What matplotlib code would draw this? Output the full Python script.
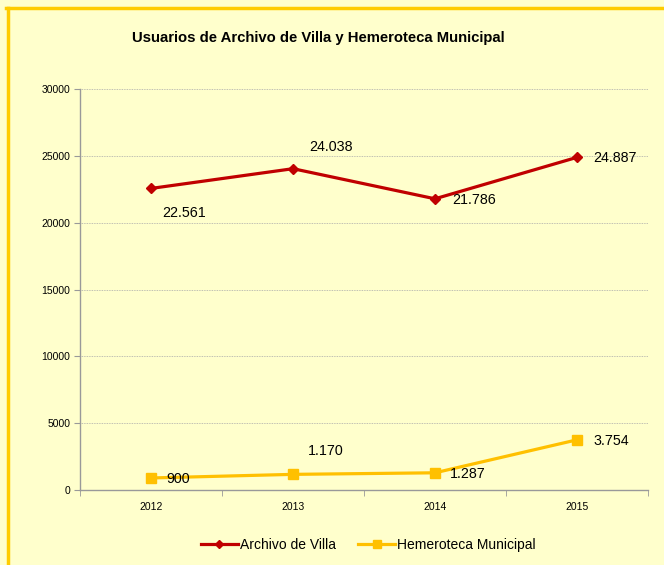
import matplotlib.pyplot as plt
from matplotlib.lines import Line2D
from matplotlib.ticker import FixedLocator

years = ['2012', '2013', '2014', '2015']
archivo = [22561, 24038, 21786, 24887]
hemeroteca = [900, 1170, 1287, 3754]
archivo_labels = ['22.561', '24.038', '21.786', '24.887']
hemeroteca_labels = ['900', '1.170', '1.287', '3.754']

# label offsets (pixels) relative to the point
archivo_off = [(11, -25), (16, 22), (17, -1), (16, -1)]
hemeroteca_off = [(15, -1), (15, 23), (15, -1), (16, -1)]

bg = '#FFFFCC'
red = '#C00000'
gold = '#FFC000'

plt.rcParams['font.family'] = ['Liberation Sans', 'DejaVu Sans']

fig = plt.figure(figsize=(6.64, 5.65), dpi=100, facecolor=bg)
ax = fig.add_axes([80 / 664, 75 / 565, 568 / 664, 401 / 565], facecolor=bg)

x = list(range(1, len(years) + 1))
ax.plot(x, archivo, color=red, lw=2.3, marker='D', ms=5.5, label='Archivo de Villa', zorder=3)
ax.plot(x, hemeroteca, color=gold, lw=2.3, marker='s', ms=7, label='Hemeroteca Municipal', zorder=3)

for xi, v, t, off in zip(x, archivo, archivo_labels, archivo_off):
    ax.annotate(t, (xi, v), xytext=off, textcoords='offset pixels',
                ha='left', va='center', fontsize=10.3, color='black')
for xi, v, t, off in zip(x, hemeroteca, hemeroteca_labels, hemeroteca_off):
    ax.annotate(t, (xi, v), xytext=off, textcoords='offset pixels',
                ha='left', va='center', fontsize=10.3, color='black')

ax.set_xlim(0.5, 4.5)
ax.set_ylim(0, 30000)
ax.set_xticks(x)
ax.set_xticklabels(years, fontsize=7.5)
ax.xaxis.set_minor_locator(FixedLocator([0.5, 1.5, 2.5, 3.5, 4.5]))
ax.tick_params(axis='x', which='major', length=0, pad=9)
ax.tick_params(axis='x', which='minor', length=4, color='#999999', direction='out')
ax.set_yticks(range(0, 30001, 5000))
ax.tick_params(axis='y', labelsize=7.5, length=4, color='#999999', pad=3)

ax.grid(axis='y', color='#aaaaaa', ls=(0, (1, 1)), lw=0.6)
ax.set_axisbelow(True)
for s in ['top', 'right']:
    ax.spines[s].set_visible(False)
for s in ['left', 'bottom']:
    ax.spines[s].set_color('#999999')
    ax.spines[s].set_linewidth(1)

fig.text(318 / 664, 1 - 38 / 565, 'Usuarios de Archivo de Villa y Hemeroteca Municipal',
         ha='center', va='center', fontsize=10.7, fontweight='bold')

handles = [Line2D([], [], color=red, lw=2.3, marker='D', ms=4.5),
           Line2D([], [], color=gold, lw=2.3, marker='s', ms=6)]
fig.legend(handles, ['Archivo de Villa', 'Hemeroteca Municipal'], loc='center',
           bbox_to_anchor=(368 / 664, 1 - 545 / 565), ncol=2, frameon=False,
           fontsize=10, handlelength=2.7, handletextpad=0.1, columnspacing=1.6)

# yellow frame on the top and left edges
fig.add_artist(Line2D([7.5 / 664, 7.5 / 664], [0, 1 - 7.5 / 565], color='#FFCC00', lw=2.5,
                      transform=fig.transFigure))
fig.add_artist(Line2D([6 / 664, 1], [1 - 7.5 / 565, 1 - 7.5 / 565], color='#FFCC00', lw=2.5,
                      transform=fig.transFigure))

fig.savefig('out.png', dpi=100, facecolor=bg)
